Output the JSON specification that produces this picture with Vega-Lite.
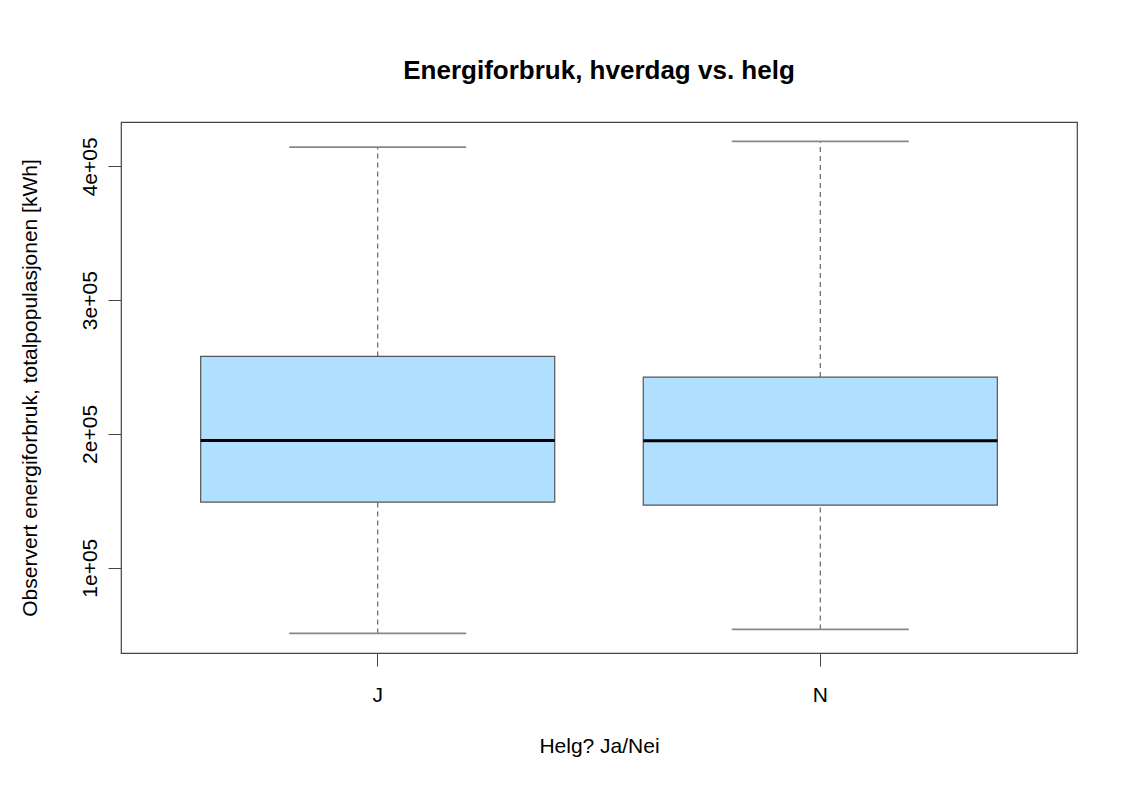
{
  "$schema": "https://vega.github.io/schema/vega-lite/v6.json",
  "width": 956,
  "height": 531,
  "autosize": {"type": "none"},
  "padding": {"left": 121, "top": 122, "right": 54, "bottom": 136},
  "background": "white",
  "title": {
    "text": "Energiforbruk, hverdag vs. helg",
    "font": "Liberation Sans",
    "fontSize": 26,
    "fontWeight": "bold",
    "color": "black",
    "anchor": "middle",
    "offset": 38
  },
  "data": {
    "values": [
      {"helg": "J", "lower": 50900, "q1": 149100, "median": 195140, "q3": 257920, "upper": 414420},
      {"helg": "N", "lower": 53890, "q1": 146860, "median": 194920, "q3": 242530, "upper": 418700}
    ]
  },
  "encoding": {
    "x": {
      "field": "helg",
      "type": "nominal",
      "scale": {"type": "band", "paddingInner": 0.2, "paddingOuter": 0.18},
      "axis": {
        "title": "Helg? Ja/Nei",
        "labelAngle": 0,
        "domain": false,
        "grid": false,
        "tickColor": "#444",
        "tickSize": 13,
        "labelFont": "Liberation Sans",
        "labelFontSize": 21,
        "labelColor": "black",
        "labelPadding": 18,
        "titleFont": "Liberation Sans",
        "titleFontSize": 21,
        "titleFontWeight": "normal",
        "titleColor": "black",
        "titlePadding": 30
      }
    }
  },
  "layer": [
    {
      "mark": {"type": "rule", "color": "#666", "strokeDash": [5, 4], "strokeWidth": 1.2},
      "encoding": {
        "y": {
          "field": "q3",
          "type": "quantitative",
          "scale": {"domain": [36250, 433180], "nice": false, "zero": false},
          "axis": {
            "title": "Observert energiforbruk, totalpopulasjonen [kWh]",
            "values": [100000, 200000, 300000, 400000],
            "labelExpr": "replace(format(datum.value, '.0e'), 'e+', 'e+0')",
            "labelAngle": -90,
            "labelAlign": "center",
            "labelBaseline": "bottom",
            "domain": false,
            "grid": false,
            "tickColor": "#444",
            "tickSize": 13,
            "labelFont": "Liberation Sans",
            "labelFontSize": 21,
            "labelColor": "black",
            "labelPadding": 8,
            "titleFont": "Liberation Sans",
            "titleFontSize": 21,
            "titleFontWeight": "normal",
            "titleColor": "black",
            "titlePadding": 39
          }
        },
        "y2": {"field": "upper"}
      }
    },
    {
      "mark": {"type": "rule", "color": "#666", "strokeDash": [5, 4], "strokeWidth": 1.2},
      "encoding": {
        "y": {"field": "lower", "type": "quantitative"},
        "y2": {"field": "q1"}
      }
    },
    {
      "mark": {"type": "tick", "color": "#888", "opacity": 1, "size": 177, "thickness": 1.6},
      "encoding": {"y": {"field": "upper", "type": "quantitative"}}
    },
    {
      "mark": {"type": "tick", "color": "#888", "opacity": 1, "size": 177, "thickness": 1.6},
      "encoding": {"y": {"field": "lower", "type": "quantitative"}}
    },
    {
      "mark": {"type": "bar", "fill": "#B0DFFF", "stroke": "#555", "strokeWidth": 1.2, "opacity": 1},
      "encoding": {
        "y": {"field": "q1", "type": "quantitative"},
        "y2": {"field": "q3"}
      }
    },
    {
      "mark": {"type": "tick", "color": "black", "opacity": 1, "size": 354, "thickness": 3},
      "encoding": {"y": {"field": "median", "type": "quantitative"}}
    }
  ],
  "config": {
    "view": {"stroke": "#444", "strokeWidth": 1.2},
    "font": "Liberation Sans"
  }
}
